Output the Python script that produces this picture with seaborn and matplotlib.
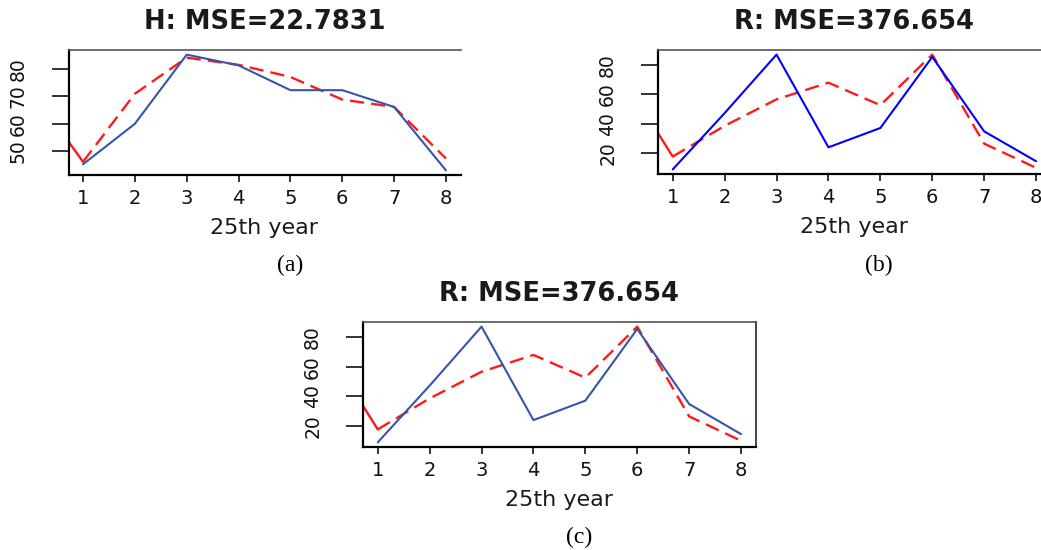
import matplotlib
matplotlib.use("Agg")
import matplotlib.pyplot as plt
import seaborn as sns

# values
YEARS = [1, 2, 3, 4, 5, 6, 7, 8]

H_ACTUAL = [45.3, 60.0, 85.1, 81.2, 72.2, 72.2, 66.1, 43.1]
H_FIT = [46.2, 70.9, 84.0, 81.4, 77.0, 68.8, 66.1, 47.4]
H_FIT_PREV = 72.5          # value at year 0 (only its tail shows)
H_TICKS = [50, 60, 70, 80]

R_ACTUAL = [8.7, 47.2, 87.2, 23.8, 37.0, 85.6, 34.7, 14.3]
R_FIT = [17.5, 38.5, 56.6, 68.0, 52.6, 87.2, 26.3, 9.8]
R_FIT_PREV = 73.7
R_TICKS = [20, 40, 60, 80]

TITLES = ["H: MSE=22.7831", "R: MSE=376.654", "R: MSE=376.654"]
CAPTIONS = ["(a)", "(b)", "(c)"]
XLABEL = "25th year"

BLUE_DARK = "#3456A8"
BLUE = "#0000FF"
RED = "#FF1A1A"

W, H = 1041, 550
SANS = ["DejaVu Sans"]
NARROW = ["Liberation Sans Narrow", "DejaVu Sans Condensed", "DejaVu Sans"]
SERIF = ["Liberation Serif", "DejaVu Serif"]


def px_rect(l, t, r, b):
    return [l / W, 1 - b / H, (r - l) / W, (b - t) / H]


def r_range(*series):
    vals = [v for s in series for v in s]
    lo, hi = min(vals), max(vals)
    pad = 0.04 * (hi - lo)
    return lo - pad, hi + pad


def panel(fig, rect, actual, fit, fit_prev, yticks, title, blue, right_spine):
    ax = fig.add_axes(rect)
    sns.lineplot(x=[0, 1], y=[fit_prev, fit[0]], color=RED, lw=1.7, ax=ax)
    sns.lineplot(x=YEARS, y=fit, color=RED, lw=1.7, linestyle=(0, (6, 3)), ax=ax)
    sns.lineplot(x=YEARS, y=actual, color=blue, lw=1.5, ax=ax)

    ax.set_xlim(0.72, 8.28)
    ax.set_ylim(*r_range(actual, fit))
    ax.set_xticks(YEARS)
    ax.set_yticks(yticks)
    ax.set_xticklabels([str(x) for x in YEARS], fontfamily=SANS, fontsize=14)
    ax.set_yticklabels([str(y) for y in yticks], fontfamily=NARROW, fontsize=13.5,
                       rotation=90, va="center")
    ax.tick_params(axis="x", bottom=True, direction="out", length=5, width=1.2,
                   pad=5, colors="#111111")
    ax.tick_params(axis="y", left=True, direction="out", length=12.5, width=1.2,
                   pad=17, colors="#111111")

    ax.set_title(title, fontfamily=SANS, fontweight="bold", fontsize=18.5,
                 pad=15, color="#1a1a1a")
    ax.set_xlabel(XLABEL, fontfamily=SANS, fontsize=16, labelpad=7, color="#1a1a1a")
    ax.set_ylabel("")
    ax.grid(False)

    for side in ("left", "bottom"):
        ax.spines[side].set_color("black")
        ax.spines[side].set_linewidth(1.6)
    ax.spines["top"].set_color("#555555")
    ax.spines["top"].set_linewidth(1.2)
    ax.spines["right"].set_color("#444444")
    ax.spines["right"].set_linewidth(1.4)
    ax.spines["right"].set_visible(right_spine)
    return ax


def main():
    sns.set_theme(style="white")
    plt.rcParams["font.family"] = SANS

    fig = plt.figure(figsize=(W / 100, H / 100), dpi=100)

    panel(fig, px_rect(68.5, 50, 460.5, 175), H_ACTUAL, H_FIT, H_FIT_PREV,
          H_TICKS, TITLES[0], BLUE_DARK, right_spine=False)
    panel(fig, px_rect(658.2, 50, 1050.6, 174), R_ACTUAL, R_FIT, R_FIT_PREV,
          R_TICKS, TITLES[1], BLUE, right_spine=False)
    panel(fig, px_rect(363.2, 322, 755.6, 447), R_ACTUAL, R_FIT, R_FIT_PREV,
          R_TICKS, TITLES[2], BLUE_DARK, right_spine=True)

    for cap, (cx, cy) in zip(CAPTIONS, [(290, 265), (879, 265), (579, 537)]):
        fig.text(cx / W, 1 - cy / H, cap, ha="center", va="center",
                 fontfamily=SERIF, fontsize=17, color="black")

    fig.savefig("out.png", dpi=100)


if __name__ == "__main__":
    main()
